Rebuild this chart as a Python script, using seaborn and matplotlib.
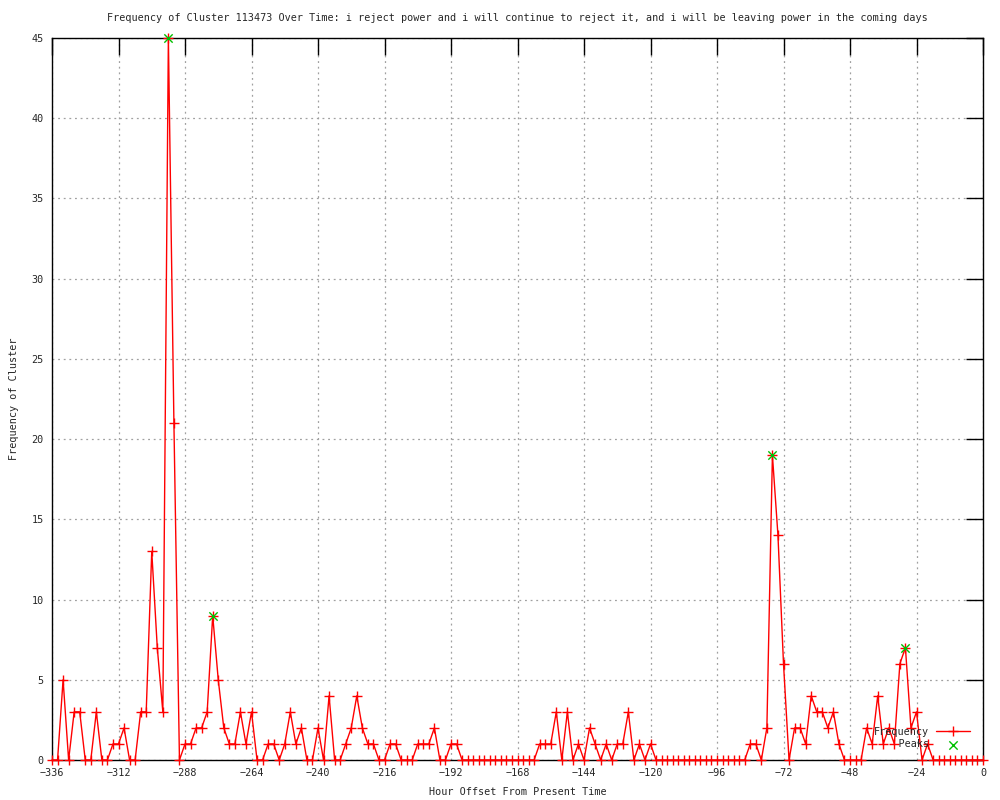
import numpy as np
import seaborn as sns
import matplotlib.pyplot as plt

# hour offsets, every 2 hours from -336 to 0
hours = list(range(-336, 1, 2))

# cluster frequency at each hour offset
freq = [0, 0, 5, 0, 3, 3, 0, 0, 3, 0,          # -336 .. -318
        0, 1, 1, 2, 0, 0, 3, 3, 13, 7,         # -316 .. -298
        3, 45, 21, 0, 1, 1, 2, 2, 3, 9,        # -296 .. -278
        5, 2, 1, 1, 3, 1, 3, 0, 0, 1,          # -276 .. -258
        1, 0, 1, 3, 1, 2, 0, 0, 2, 0,          # -256 .. -238
        4, 0, 0, 1, 2, 4, 2, 1, 1, 0,          # -236 .. -218
        0, 1, 1, 0, 0, 0, 1, 1, 1, 2,          # -216 .. -198
        0, 0, 1, 1, 0, 0, 0, 0, 0, 0,          # -196 .. -178
        0, 0, 0, 0, 0, 0, 0, 0, 1, 1,          # -176 .. -158
        1, 3, 0, 3, 0, 1, 0, 2, 1, 0,          # -156 .. -138
        1, 0, 1, 1, 3, 0, 1, 0, 1, 0,          # -136 .. -118
        0, 0, 0, 0, 0, 0, 0, 0, 0, 0,          # -116 .. -98
        0, 0, 0, 0, 0, 0, 1, 1, 0, 2,          # -96 .. -78
        19, 14, 6, 0, 2, 2, 1, 4, 3, 3,        # -76 .. -58
        2, 3, 1, 0, 0, 0, 0, 2, 1, 4,          # -56 .. -38
        1, 2, 1, 6, 7, 2, 3, 0, 1, 0,          # -36 .. -18
        0, 0, 0, 0, 0, 0, 0, 0, 0]             # -16 .. 0

# detected peaks
peak_hours = [-294, -278, -76, -28]
peak_values = [45, 9, 19, 7]

title = ("Frequency of Cluster 113473 Over Time: i reject power and i will "
         "continue to reject it, and i will be leaving power in the coming days")

sns.set_theme(style='white')
plt.rcParams['font.family'] = ['DejaVu Sans Mono']
fs = 7.3

fig = plt.figure(figsize=(10, 8), dpi=100)
ax = fig.add_axes([0.052, 0.05, 0.931, 0.9025])

sns.lineplot(x=hours, y=freq, color='red', marker='+', markersize=7,
             markeredgewidth=1, markeredgecolor='red', linewidth=1,
             label='Frequency', clip_on=False, ax=ax, zorder=3)
sns.scatterplot(x=peak_hours, y=peak_values, color='#00c000', marker='x',
                s=36, linewidth=1, label='    Peaks', clip_on=False, ax=ax,
                zorder=4)

ax.set_xlim(-336, 0)
ax.set_ylim(0, 45)
ax.set_xticks(range(-336, 1, 24))
ax.set_yticks(range(0, 46, 5))
ax.grid(True, color='#a0a0a0', linestyle=(0, (1.5, 3)), linewidth=0.9)
ax.tick_params(direction='in', top=True, right=True, length=12, width=1,
               color='black', labelsize=fs, pad=6)
for s in ax.spines.values():
    s.set_color('black')
    s.set_linewidth(1)
    s.set_zorder(2.5)

ax.set_title(title, fontsize=fs, pad=12)
ax.set_xlabel('Hour Offset From Present Time', fontsize=fs, labelpad=6)
ax.set_ylabel('Frequency of Cluster', fontsize=fs, labelpad=9)

# gnuplot style key: text first, sample after, no frame
ax.legend(loc='lower right', bbox_to_anchor=(0.990, 0.009), frameon=False,
          markerfirst=False, fontsize=fs, handlelength=3.3,
          labelspacing=0.25, borderaxespad=0, handletextpad=0.7)

fig.savefig('out.png', dpi=100)
